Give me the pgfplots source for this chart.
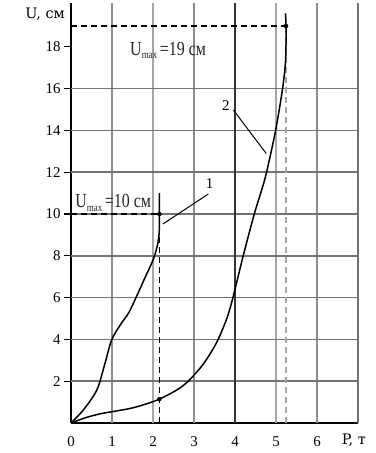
\documentclass[border=0pt]{standalone}
\usepackage{pgfplots}
\pgfplotsset{compat=1.18}
\usepackage{graphicx}
\usepackage{fontspec}
\setmainfont{Liberation Serif}
\newfontfamily\dvs{DejaVu Serif}
\begin{document}
\begin{tikzpicture}
\path[use as bounding box] (-71bp,-30bp) rectangle (305bp,423bp);
\begin{axis}[
  scale only axis, width=287bp, height=420bp,
  xmin=0, xmax=7, ymin=0, ymax=20.1,
  axis x line=bottom, axis y line=left,
  axis line style={-, black, line width=1.5bp},
  xtick={0,...,7}, xticklabels={0,1,2,3,4,5,6,{}},
  ytick={2,4,...,18},
  x tick style={draw=none},
  y tick style={black, line width=1.1bp},
  tick align=outside, major tick length=7bp,
  /pgf/number format/assume math mode=true,
  tick label style={font=\fontsize{15}{15}\selectfont},
  xticklabel style={yshift=-3bp},
  clip=false,
]
% grid lines
\addplot[black!45, line width=1.3bp] coordinates {(1,0) (1,20.1)};
\addplot[black!35, line width=1.5bp] coordinates {(2,0) (2,20.1)};
\addplot[black!45, line width=1.3bp] coordinates {(3,0) (3,20.1)};
\addplot[black!35, line width=1.5bp] coordinates {(5,0) (5,20.1)};
\addplot[black!45, line width=1.3bp] coordinates {(6,0) (6,20.1)};
\addplot[black!55, line width=1.3bp] coordinates {(7,0) (7,20.1)};
\addplot[black!55, line width=1.6bp] coordinates {(0,2) (7,2)};
\addplot[black!55, line width=1.6bp] coordinates {(0,4) (7,4)};
\addplot[black!55, line width=1.6bp] coordinates {(0,6) (7,6)};
\addplot[black!55, line width=1.6bp] coordinates {(0,8) (7,8)};
\addplot[black!55, line width=1.6bp] coordinates {(0,10) (7,10)};
\addplot[black!55, line width=1.6bp] coordinates {(0,12) (7,12)};
\addplot[black!55, line width=1.6bp] coordinates {(0,14) (7,14)};
\addplot[black!55, line width=1.6bp] coordinates {(0,16) (7,16)};
\addplot[black!80, line width=1.3bp] coordinates {(4,0) (4,20.1)};
% dashed guide lines
\addplot[black, line width=1.1bp, dash pattern=on 6bp off 4bp] coordinates {(0,19) (5.245,19)};
\addplot[black!35, line width=1.2bp, dash pattern=on 6bp off 4bp] coordinates {(5.245,0) (5.245,19)};
\addplot[black, line width=1.1bp, dash pattern=on 6bp off 4bp] coordinates {(0,10) (2.155,10)};
\addplot[black, line width=1.1bp, dash pattern=on 6bp off 4bp] coordinates {(2.155,0) (2.155,10)};
% curve 1
\addplot[black, line width=1.5bp, smooth, tension=0.5] coordinates {
 (0,0) (0.30,0.62) (0.63,1.58) (0.83,2.86) (0.99,3.97) (1.2,4.69) (1.40,5.25)
 (1.56,5.89) (1.76,6.76) (2.0,7.8) (2.1,8.44) (2.15,9.07) (2.155,10) (2.155,11.0)};
% curve 2
\addplot[black, line width=1.5bp, smooth, tension=0.5] coordinates {
 (0,0) (0.35,0.25) (0.71,0.44) (1.03,0.55) (1.4,0.68) (1.7,0.83) (2.13,1.12)
 (2.58,1.58) (2.86,2.0) (3.2,2.75) (3.42,3.4) (3.59,4.0) (3.8,5.0) (3.95,6.0)
 (4.2,8.0) (4.47,10.0) (4.65,11.15) (4.77,12.0) (4.99,14.0) (5.16,16.0)
 (5.235,17.4) (5.245,19.0) (5.23,19.6)};
% dots
\addplot[only marks, mark=*, mark size=2bp, black] coordinates {(2.155,10) (2.155,1.14) (5.245,19)};
% leader lines
\addplot[black, line width=1bp] coordinates {(3.35,10.96) (2.24,9.52)};
\addplot[black, line width=1bp] coordinates {(3.96,14.98) (4.76,12.9)};
% labels
\node[font=\fontsize{15}{15}\selectfont] at (axis cs:3.38,11.45) {1};
\node[font=\fontsize{15}{15}\selectfont] at (axis cs:3.78,15.2) {2};
\node[anchor=base west, inner sep=0, text=black!85, font=\fontsize{16}{16}\selectfont]
  at (axis cs:1.44,17.6) {\scalebox{1}[1.25]{U\raisebox{-3bp}{\fontsize{9}{9}\selectfont max}\,=19 см}};
\node[anchor=base west, inner sep=0, text=black!85, font=\fontsize{16}{16}\selectfont]
  at (axis cs:0.1,10.29) {\scalebox{1}[1.25]{U\raisebox{-3bp}{\fontsize{9}{9}\selectfont max}\,=10 см}};
\node[font=\dvs\fontsize{14.5}{14.5}\selectfont] at (axis cs:-0.63,19.57) {U, см};
\node[font=\dvs\fontsize{14.5}{14.5}\selectfont] at (axis cs:6.9,-0.81) {P, т};
\end{axis}
\end{tikzpicture}
\end{document}
